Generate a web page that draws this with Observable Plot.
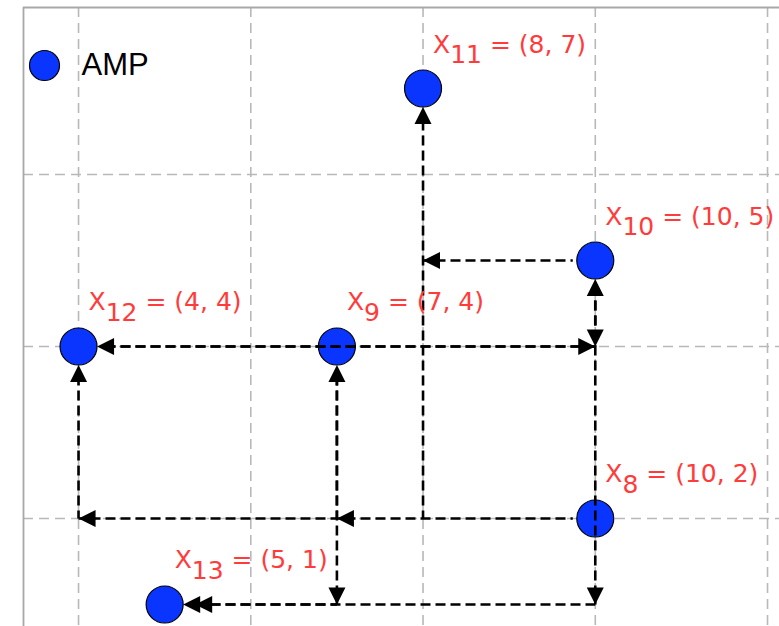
<!DOCTYPE html>
<html><head><meta charset="utf-8">
<script src="https://cdn.jsdelivr.net/npm/d3@7"></script>
<script src="https://cdn.jsdelivr.net/npm/@observablehq/plot@0.6"></script>
<style>html,body{margin:0;padding:0;background:#fff}</style>
</head><body><div id="chart"></div>
<script>
// ---- data ----
const seriesName = "AMP";
const pointIndex = [8, 9, 10, 11, 12, 13];
const pointX = [10, 7, 10, 8, 4, 5];
const pointY = [2, 4, 5, 7, 4, 1];
const arrowFromX = [10, 8, 4, 10, 10, 10, 10, 7, 7, 4, 10, 7, 10, 7];
const arrowFromY = [5, 2, 4, 5, 4, 4, 2, 2, 2, 2, 4, 4, 1, 1];
const arrowToX   = [8, 8, 10, 10, 10, 10, 7, 7, 4, 4, 4, 7, 5, 5];
const arrowToY   = [5, 7, 4, 4, 5, 1, 2, 4, 2, 4, 4, 1, 1, 1];
const gridXTicks = [4, 6, 8, 10, 12];
const gridYTicks = [2, 4, 6];
const xDomain = [3.361, 12.139];
const yDomain = [0.744, 7.942];

// ---- layout / styles ----
const W = 779, H = 626, ML = 23, MT = 7;
const BLUE = "#0a35ff", RED = "#ff3b3b";
const DOT_R = 18.5, LINE_INSET = DOT_R + 4;
const xs = d3.scaleLinear(xDomain, [ML, W]);
const ys = d3.scaleLinear(yDomain, [H, MT]);

const points = pointIndex.map((k, i) => ({
  x: pointX[i], y: pointY[i],
  label: `X${k} = (${pointX[i]}, ${pointY[i]})`
}));

const isPoint = (x, y) => pointX.some((px, j) => px === x && pointY[j] === y);
const arrows = arrowFromX.map((x1, i) => ({
  x1, y1: arrowFromY[i], x2: arrowToX[i], y2: arrowToY[i]
}));
arrows.forEach((a, i) => {
  a.angle = Math.atan2(a.x2 - a.x1, a.y2 - a.y1) * 180 / Math.PI;
  const stack = arrows.slice(0, i).filter(b => b.x2 === a.x2 && b.y2 === a.y2 &&
    Math.atan2(b.x2 - b.x1, b.y2 - b.y1) * 180 / Math.PI === a.angle).length;
  a.headInset = isPoint(a.x2, a.y2) ? DOT_R + 12 * stack : 0;
  // line drawn in canonical (increasing pixel) direction, so overlapping dashes align
  let s = {x: a.x1, y: a.y1, inset: isPoint(a.x1, a.y1) ? LINE_INSET : 0};
  let e = {x: a.x2, y: a.y2, inset: isPoint(a.x2, a.y2) ? LINE_INSET : 0};
  const sp = [xs(s.x), ys(s.y)], ep = [xs(e.x), ys(e.y)];
  if (ep[0] < sp[0] || ep[1] < sp[1]) [s, e] = [e, s];
  a.line = {x1: s.x, y1: s.y, x2: e.x, y2: e.y, insetStart: s.inset, insetEnd: e.inset,
    offset: (s.x === e.x ? ys(s.y) : xs(s.x)) + s.inset};
});

function headSymbol(angleDeg, off) {
  const t = angleDeg * Math.PI / 180, c = Math.cos(t), s = Math.sin(t);
  const rot = (x, y) => [x * c - y * s, x * s + y * c];
  const L = 17, HW = 8.5;
  return {
    draw(ctx) {
      const p0 = rot(0, off), p1 = rot(-HW, off + L), p2 = rot(HW, off + L);
      ctx.moveTo(p0[0], p0[1]); ctx.lineTo(p1[0], p1[1]); ctx.lineTo(p2[0], p2[1]); ctx.closePath();
    }
  };
}

const marks = [
  Plot.ruleX(gridXTicks, {stroke: "#b8b8b8", strokeWidth: 1.6, strokeDasharray: "10,6"}),
  Plot.ruleY(gridYTicks, {stroke: "#b8b8b8", strokeWidth: 1.6, strokeDasharray: "10,6"}),
  Plot.ruleX([xDomain[0]], {stroke: "#a8a8a8", strokeWidth: 1.8}),
  Plot.ruleY([yDomain[1]], {stroke: "#a8a8a8", strokeWidth: 1.8}),
  Plot.dot(points, {x: "x", y: "y", r: DOT_R, fill: BLUE, stroke: "black", strokeWidth: 1.2})
];
arrows.forEach(a => {
  marks.push(Plot.arrow([a.line], {
    x1: "x1", y1: "y1", x2: "x2", y2: "y2",
    insetStart: a.line.insetStart, insetEnd: a.line.insetEnd, headLength: 0,
    stroke: "black", strokeWidth: 2.6, strokeDasharray: "10,5",
    strokeDashoffset: a.line.offset, strokeLinecap: "butt"
  }));
});
arrows.forEach(a => {
  marks.push(Plot.dot([a], {
    x: "x2", y: "y2", symbol: headSymbol(a.angle, a.headInset), fill: "black", stroke: "none", r: 5
  }));
});
marks.push(
  Plot.text(points, {
    x: "x", y: "y", text: "label", dx: 10, dy: -36, textAnchor: "start", lineAnchor: "bottom",
    fill: RED, fontSize: 25, fontFamily: "DejaVu Sans"
  }),
  Plot.dot([seriesName], {frameAnchor: "top-left", dx: 21, dy: 58, r: 15, fill: BLUE, stroke: "black", strokeWidth: 1.2}),
  Plot.text([seriesName], {frameAnchor: "top-left", text: d => d, dx: 58, dy: 58, textAnchor: "start",
    lineAnchor: "middle", fontSize: 31, fontFamily: "Liberation Sans", fill: "black"})
);

const chart = Plot.plot({
  width: W, height: H,
  marginLeft: ML, marginTop: MT, marginRight: 0, marginBottom: 0,
  x: {domain: xDomain, axis: null},
  y: {domain: yDomain, axis: null},
  style: {background: "white", overflow: "hidden"},
  marks
});

// rebuild point labels as X + subscript index + rest (still real text)
chart.querySelectorAll("text").forEach(t => {
  const m = /^X(\d+)( = .*)$/.exec(t.textContent);
  if (!m) return;
  t.textContent = "";
  const ns = "http://www.w3.org/2000/svg";
  const a = document.createElementNS(ns, "tspan"); a.textContent = "X";
  const b = document.createElementNS(ns, "tspan"); b.textContent = m[1]; b.setAttribute("dy", "10.5");
  const c = document.createElementNS(ns, "tspan"); c.textContent = m[2]; c.setAttribute("dy", "-10.5");
  c.setAttribute("style", "white-space:pre");
  t.append(a, b, c);
});

document.getElementById("chart").appendChild(chart);
</script>
</body></html>
